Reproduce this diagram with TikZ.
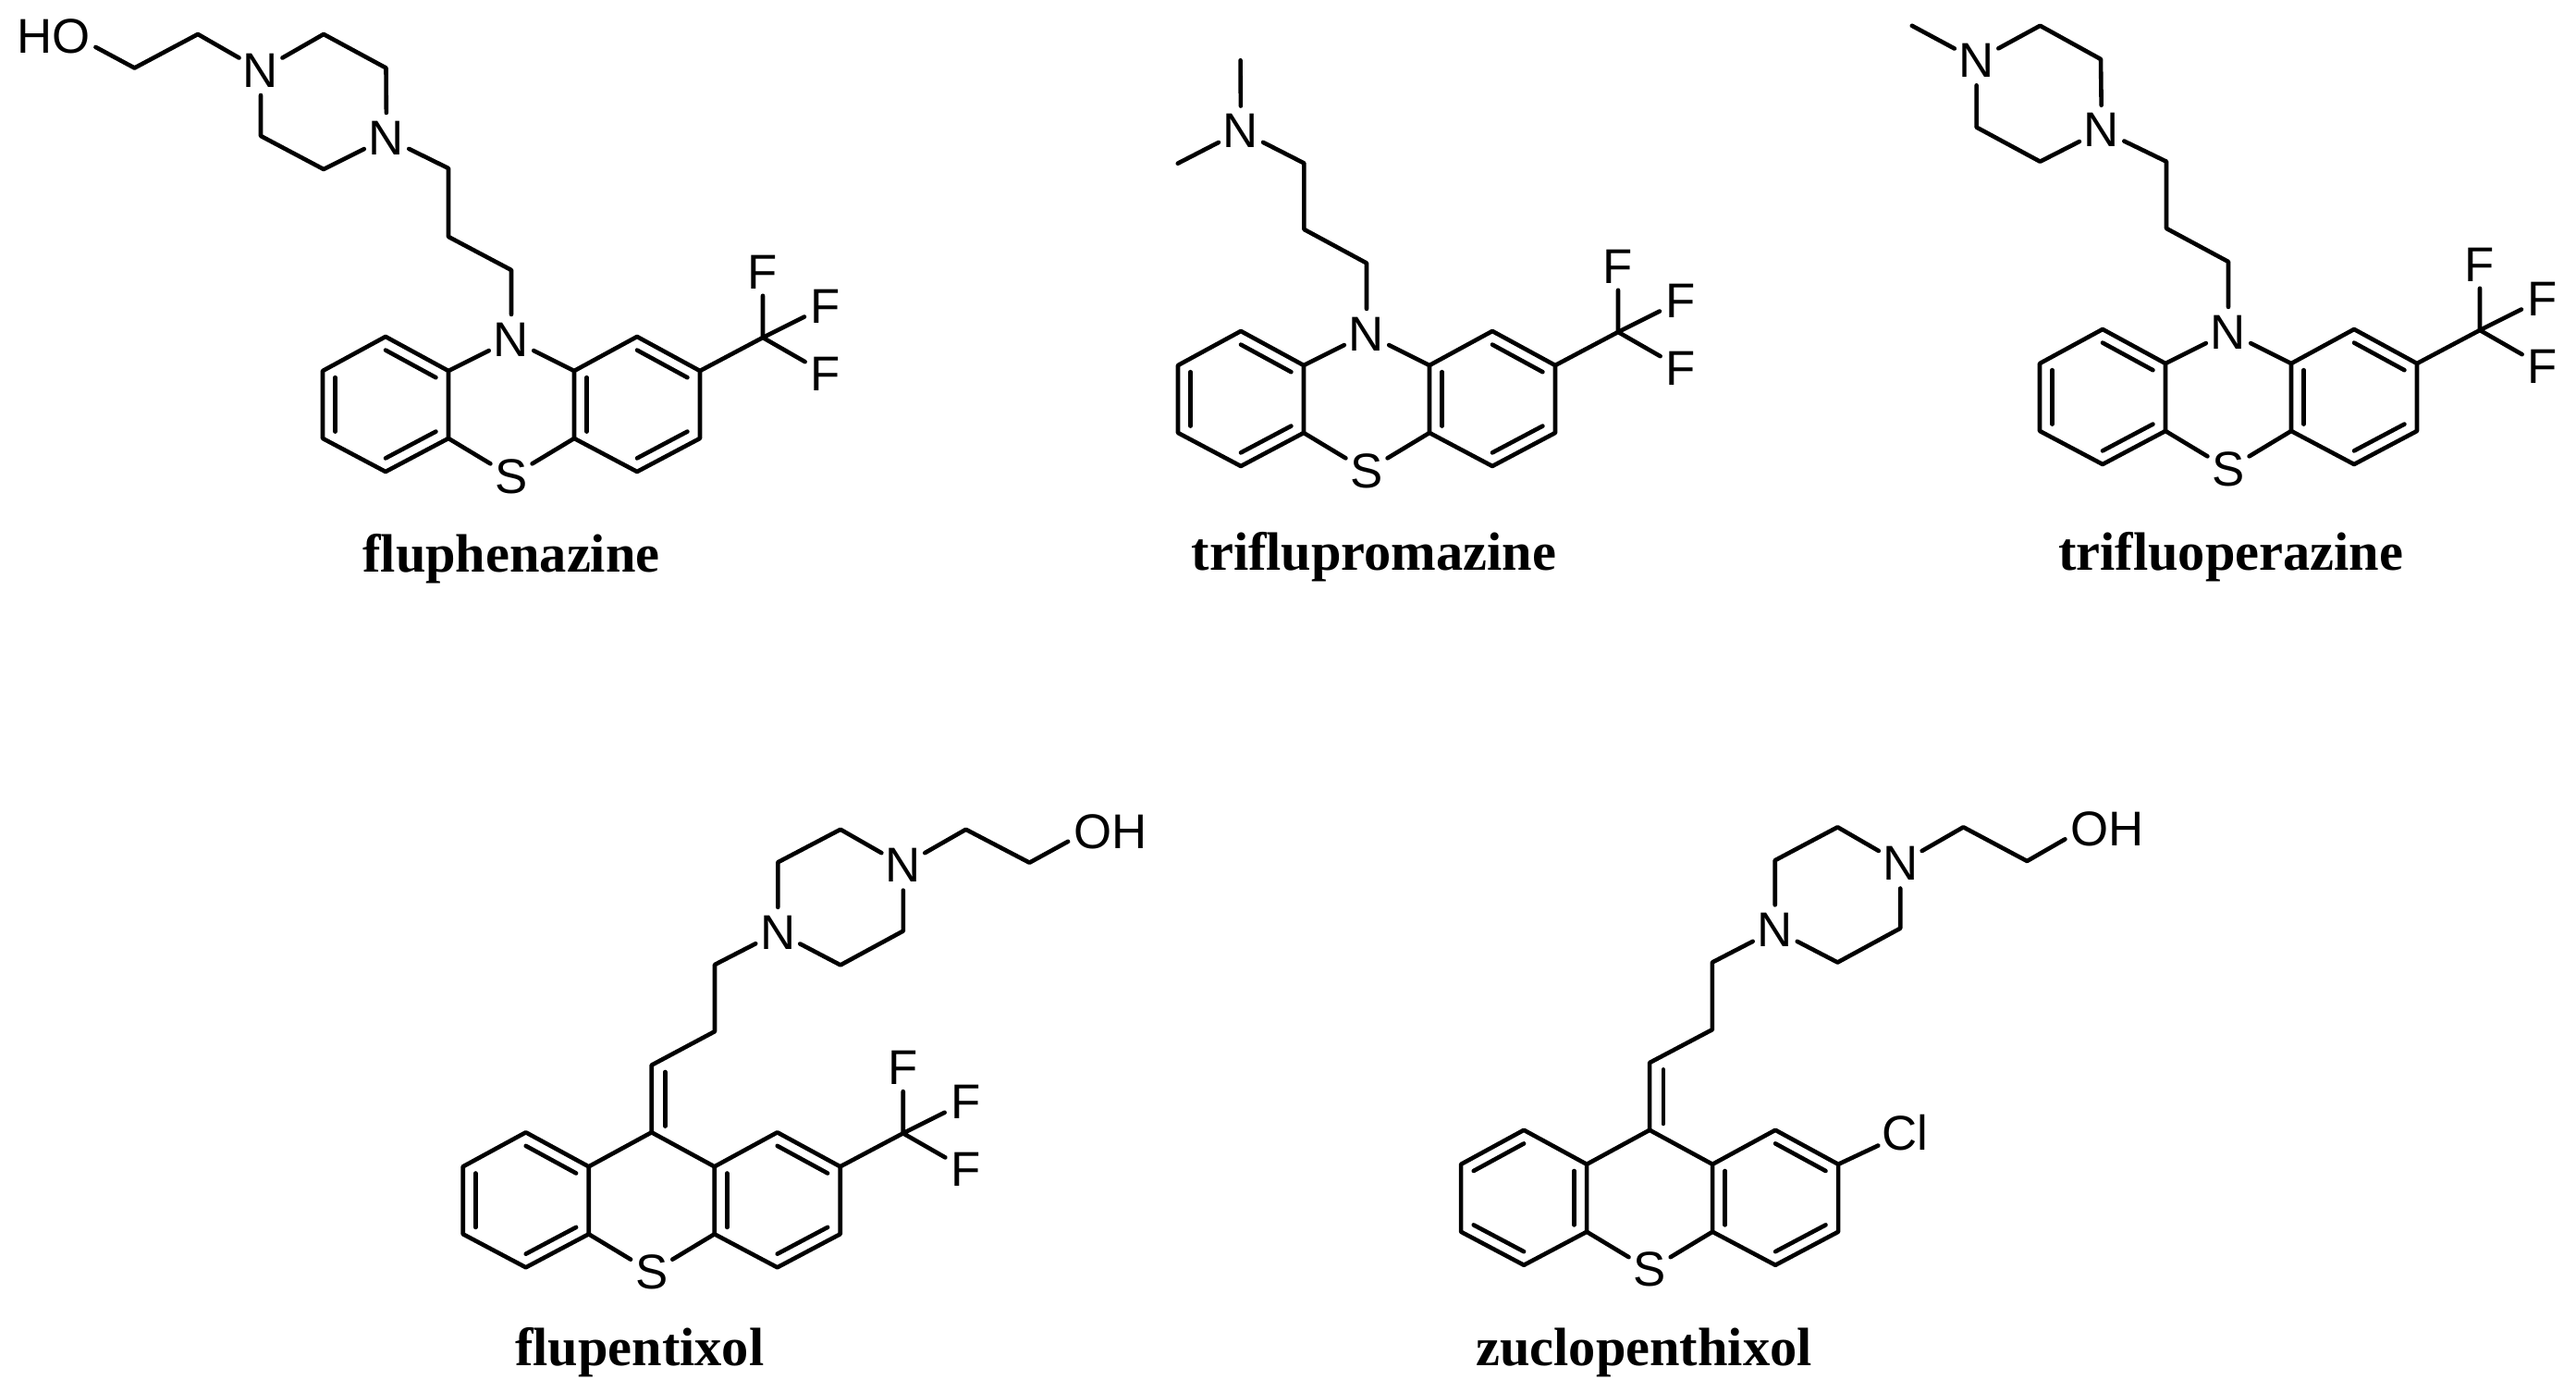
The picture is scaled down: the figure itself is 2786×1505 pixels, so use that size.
\documentclass[tikz,border=0pt]{standalone}
\usepackage{fontspec}
\setmainfont{Liberation Sans}
\newfontfamily\titlefont{Liberation Serif}
\usepackage{tikz}
\usetikzlibrary{calc}
\tikzset{
    bond/.style={line width=1.15pt, line cap=round, line join=round},
    atom/.style={circle, inner sep=0pt, minimum size=12.5pt, font=\fontsize{13.2}{13.2}\selectfont},
    wideatom/.style={atom, minimum size=15.4pt},
    hydroxy/.style={atom, minimum size=23pt},
    title/.style={inner sep=0pt, font=\titlefont\bfseries\fontsize{14.6}{16}\selectfont}
}
% Fused rings around (T), which has to exist before this is used
\newcommand{\tricycle}[1]{
    \path (-136,0) coordinate (L1) (-204,37) coordinate (L2) (-204,110) coordinate (L3)
          (-136,146) coordinate (L4) (-68,110) coordinate (L5) (-68,37) coordinate (L6)
          (-136,73) coordinate (Lc);
    \path (136,0) coordinate (R1) (204,37) coordinate (R2) (204,110) coordinate (R3)
          (136,146) coordinate (R4) (68,110) coordinate (R5) (68,37) coordinate (R6)
          (136,73) coordinate (Rc);
    \node[atom] (S) at (0,151) {S};
    \draw[bond] (L6) -- (L1) -- (L2) -- (L3) -- (L4) -- (L5) -- (L6) -- (T) -- (R6)
                -- (R1) -- (R2) -- (R3) -- (R4) -- (R5) -- (R6);
    \draw[bond] (L5) -- (S) -- (R5);
    \foreach \a/\b/\c in {#1, R5/R6/Rc, R1/R2/Rc, R3/R4/Rc}
        \draw[bond] ($(\a)!.2!(\c)$) -- ($(\b)!.2!(\c)$);
}
% The CF3 group on the right ring
\newcommand{\cfthree}{
    \coordinate (C) at (272,1);
    \node[atom] (F1) at (272,-70) {F};
    \node[atom] (F2) at (340,-33) {F};
    \node[atom] (F3) at (340,40) {F};
    \draw[bond] (R2) -- (C) -- (F1);
    \draw[bond] (F2) -- (C) -- (F3);
}
\begin{document}
\begin{tikzpicture}[x=.25pt, y=-.25pt]
    \useasboundingbox (0,0) rectangle (2786,1505);

    % fluphenazine
    \begin{scope}[shift={(553,364)}, name prefix=fz-]
        \node[atom] (T) at (0,3) {N};
        \tricycle{L1/L6/Lc, L2/L3/Lc, L4/L5/Lc}
        \cfthree
    \end{scope}
    \path (553,292) coordinate (fz1) (485,256) coordinate (fz2) (485,182) coordinate (fz3)
          (350,183) coordinate (fz4) (282,147) coordinate (fz5)
          (350,37) coordinate (fz6) (417.5,73.5) coordinate (fz7)
          (214,37) coordinate (fz8) (145.5,73.5) coordinate (fz9);
    \node[atom] (fzN1) at (418,149) {N};
    \node[atom] (fzN2) at (282,76) {N};
    \node[hydroxy] (fzOH) at (58,39.6) {HO};
    \draw[bond] (fz-T) -- (fz1) -- (fz2) -- (fz3) -- (fzN1) -- (fz4) -- (fz5) -- (fzN2)
                -- (fz6) -- (fz7) -- (fzN1);
    \draw[bond] (fzN2) -- (fz8) -- (fz9) -- (fzOH.-14);
    \node[title] (fzName) at (553,604) {fluphenazine};

    % triflupromazine
    \begin{scope}[shift={(1478,358)}, name prefix=tp-]
        \node[atom] (T) at (0,3) {N};
        \tricycle{L1/L6/Lc, L2/L3/Lc, L4/L5/Lc}
        \cfthree
    \end{scope}
    \path (1478,284.5) coordinate (tp1) (1410.4,248) coordinate (tp2) (1410.4,176.5) coordinate (tp3)
          (1341.6,65.3) coordinate (tp4) (1273.8,176.7) coordinate (tp5);
    \node[atom] (tpN) at (1342,141.6) {N};
    \draw[bond] (tp-T) -- (tp1) -- (tp2) -- (tp3) -- (tpN) -- (tp4);
    \draw[bond] (tpN) -- (tp5);
    \node[title] (tpName) at (1486,602) {triflupromazine};

    % trifluoperazine
    \begin{scope}[shift={(2410,356)}, name prefix=to-]
        \node[atom] (T) at (0,3) {N};
        \tricycle{L1/L6/Lc, L2/L3/Lc, L4/L5/Lc}
        \cfthree
    \end{scope}
    \path (2410,283) coordinate (to1) (2343,247) coordinate (to2) (2343,174.7) coordinate (to3)
          (2206.4,174.7) coordinate (to4) (2137.6,137.6) coordinate (to5)
          (2206.4,27.8) coordinate (to6) (2272,64) coordinate (to7) (2067.8,27.8) coordinate (to8);
    \node[atom] (toN1) at (2273,140.8) {N};
    \node[atom] (toN2) at (2137.6,65.3) {N};
    \draw[bond] (to-T) -- (to1) -- (to2) -- (to3) -- (toN1) -- (to4) -- (to5) -- (toN2)
                -- (to6) -- (to7) -- (toN1);
    \draw[bond] (toN2) -- (to8);
    \node[title] (toName) at (2412.7,602) {trifluoperazine};

    % flupentixol
    \begin{scope}[shift={(704.7,1224.3)}, name prefix=fx-]
        \coordinate (T) at (0,0);
        \tricycle{L1/L6/Lc, L2/L3/Lc, L4/L5/Lc}
        \cfthree
    \end{scope}
    \path (704.7,1151.6) coordinate (fx1) (773,1115.2) coordinate (fx2) (773,1043) coordinate (fx3)
          (909,1043.4) coordinate (fx4) (976.8,1006.6) coordinate (fx5)
          (909,896.8) coordinate (fx6) (841.3,932.3) coordinate (fx7)
          (1044.6,896.8) coordinate (fx8) (1113.4,932.7) coordinate (fx9)
          (719.4,1159) coordinate (fx10) (719.4,1217.6) coordinate (fx11);
    \node[atom] (fxN1) at (841.3,1007.9) {N};
    \node[atom] (fxN2) at (976.8,935.6) {N};
    \node[hydroxy] (fxOH) at (1200.7,899.3) {OH};
    \draw[bond] (fx-T) -- (fx1) -- (fx2) -- (fx3) -- (fxN1) -- (fx4) -- (fx5) -- (fxN2)
                -- (fx6) -- (fx7) -- (fxN1);
    \draw[bond] (fxN2) -- (fx8) -- (fx9) -- (fxOH.193);
    \draw[bond] (fx10) -- (fx11);
    \node[title] (fxName) at (691.7,1462) {flupentixol};

    % zuclopenthixol
    \begin{scope}[shift={(1784.1,1221.8)}, name prefix=zc-]
        \coordinate (T) at (0,0);
        \tricycle{L1/L2/Lc, L3/L4/Lc, L5/L6/Lc}
        \node[wideatom] (Cl) at (276.5,3) {Cl};
        \draw[bond] (R2) -- (Cl);
    \end{scope}
    \path (1784.1,1149) coordinate (zc1) (1851.9,1113.2) coordinate (zc2) (1851.9,1040.5) coordinate (zc3)
          (1987.4,1040.5) coordinate (zc4) (2055.2,1003.7) coordinate (zc5)
          (1987.4,894.3) coordinate (zc6) (1919.7,930.2) coordinate (zc7)
          (2123.4,894.3) coordinate (zc8) (2192.3,931) coordinate (zc9)
          (1798.8,1156.4) coordinate (zc10) (1798.8,1215) coordinate (zc11);
    \node[atom] (zcN1) at (1919.7,1005.4) {N};
    \node[atom] (zcN2) at (2055.2,933.5) {N};
    \node[hydroxy] (zcOH) at (2279,896.8) {OH};
    \draw[bond] (zc-T) -- (zc1) -- (zc2) -- (zc3) -- (zcN1) -- (zc4) -- (zc5) -- (zcN2)
                -- (zc6) -- (zc7) -- (zcN1);
    \draw[bond] (zcN2) -- (zc8) -- (zc9) -- (zcOH.193);
    \draw[bond] (zc10) -- (zc11);
    \node[title] (zcName) at (1778,1462) {zuclopenthixol};
\end{tikzpicture}
\end{document}
